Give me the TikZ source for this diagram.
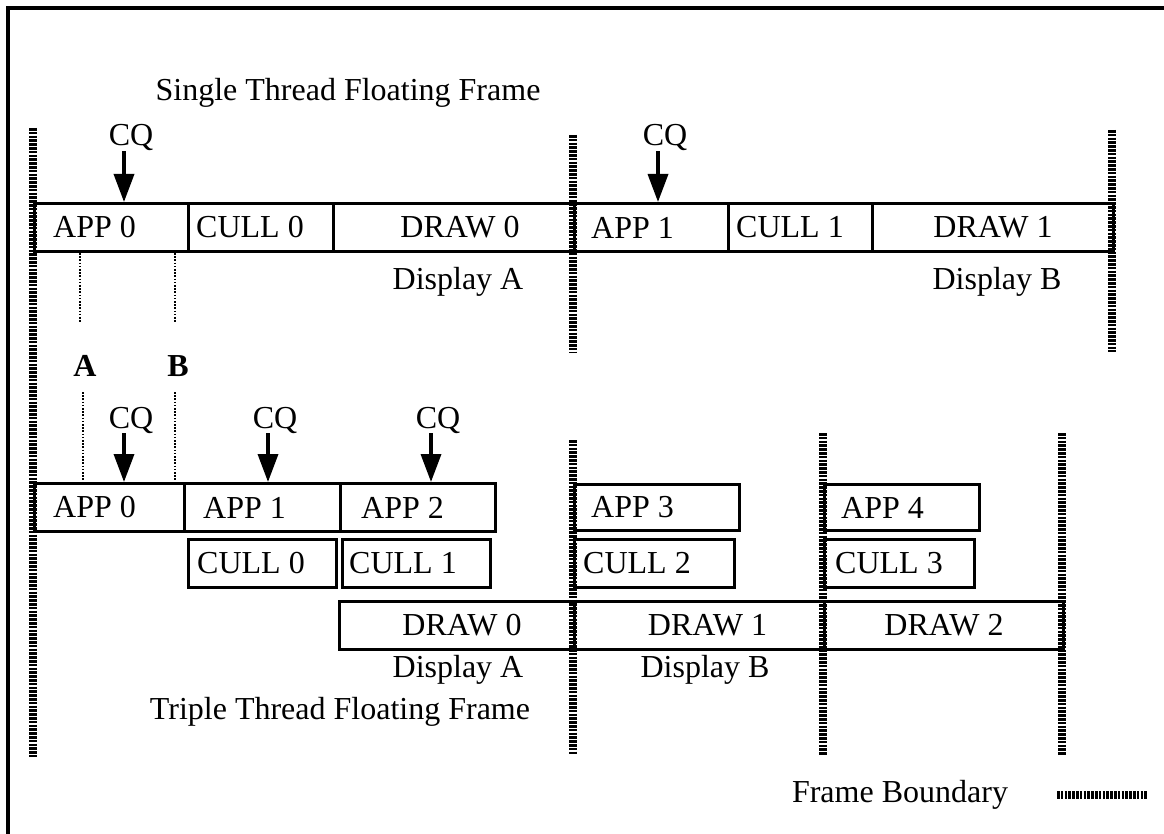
\documentclass[tikz,border=0pt]{standalone}
\usepackage{fontspec}
\setmainfont{Liberation Serif}
\usetikzlibrary{arrows.meta,calc}
\begin{document}
\begin{tikzpicture}[x=1pt,y=-1pt,
  lbl/.style={font=\fontsize{32}{36}\selectfont, inner sep=0pt},
  box/.style={draw, line width=3pt, inner sep=0pt, anchor=north west},
  fb/.style={line width=8pt, dash pattern=on 2.6pt off 1.2pt},
  cqa/.style={line width=3.5pt, -{Triangle[length=28pt,width=20pt]}},
  dots/.style={line width=2pt, dash pattern=on 1.6pt off 1.6pt}]
\useasboundingbox (0,0) rectangle (1164,834);
% outer border
\draw[line width=4pt] (8,834) -- (8,8) -- (1164,8);
% titles
\node[lbl] (title1) at (348,93) {Single Thread Floating Frame};
\node[lbl] (title2) at (340,712) {Triple Thread Floating Frame};
% ---------- single thread row ----------
\node[box,minimum width=154,minimum height=48] (sa0) at (33,202) {};
\node[box,minimum width=145,minimum height=48] (sc0) at (187,202) {};
\node[box,minimum width=241,minimum height=48] (sd0) at (332,202) {};
\node[box,minimum width=154,minimum height=48] (sa1) at (573,202) {};
\node[box,minimum width=144,minimum height=48] (sc1) at (727,202) {};
\node[box,minimum width=241,minimum height=48] (sd1) at (871,202) {};
\node[lbl,anchor=west] (sa0t) at ($(sa0.west)+(20,0)$) {APP 0};
\node[lbl,anchor=west] (sc0t) at ($(sc0.west)+(9,0)$) {CULL 0};
\node[lbl] (sd0t) at ($(sd0.center)+(6,0)$) {DRAW 0};
\node[lbl,anchor=west] (sa1t) at ($(sa1.west)+(18,0)$) {APP 1};
\node[lbl,anchor=west] (sc1t) at ($(sc1.west)+(9,0)$) {CULL 1};
\node[lbl] (sd1t) at ($(sd1.center)+(0,0)$) {DRAW 1};
\node[lbl] (dispA1) at (458,282) {Display A};
\node[lbl] (dispB1) at (997,282) {Display B};
% CQ arrows single
\node[lbl] (cq1) at (131,138) {CQ};
\node[lbl] (cq2) at (665,138) {CQ};
\draw[cqa] ([xshift=-7pt]cq1.south) -- ([xshift=-7pt]cq1.south |- sa0.north);
\draw[cqa] ([xshift=-7pt]cq2.south) -- ([xshift=-7pt]cq2.south |- sa1.north);
% dotted markers
\coordinate (da1) at (80,253); \coordinate (da2) at (80,323);
\coordinate (db1) at (175,253); \coordinate (db2) at (175,323);
\draw[dots] (da1) -- (da2);
\draw[dots] (db1) -- (db2);
\node[lbl,font=\fontsize{32}{36}\selectfont\bfseries] (labA) at (85,366) {A};
\node[lbl,font=\fontsize{32}{36}\selectfont\bfseries] (labB) at (178,366) {B};
\coordinate (dc1) at (83,392); \coordinate (dc2) at (83,481);
\coordinate (dd1) at (175,392); \coordinate (dd2) at (175,481);
\draw[dots] (dc1) -- (dc2);
\draw[dots] (dd1) -- (dd2);
% ---------- triple thread ----------
\node[box,minimum width=150,minimum height=48] (ta0) at (33,482) {};
\node[box,minimum width=156,minimum height=48] (ta1) at (183,482) {};
\node[box,minimum width=155,minimum height=48] (ta2) at (339,482) {};
\node[box,minimum width=165,minimum height=46] (ta3) at (573,483) {};
\node[box,minimum width=155,minimum height=46] (ta4) at (823,483) {};
\node[box,minimum width=148,minimum height=48] (tc0) at (187,538) {};
\node[box,minimum width=148,minimum height=48] (tc1) at (341,538) {};
\node[box,minimum width=160,minimum height=48] (tc2) at (573,538) {};
\node[box,minimum width=150,minimum height=48] (tc3) at (823,538) {};
\node[box,minimum width=235,minimum height=48] (td0) at (338,600) {};
\node[box,minimum width=250,minimum height=48] (td1) at (573,600) {};
\node[box,minimum width=239,minimum height=48] (td2) at (823,600) {};
\node[lbl,anchor=west] (ta0t) at ($(ta0.west)+(20,0)$) {APP 0};
\node[lbl,anchor=west] (ta1t) at ($(ta1.west)+(20,0)$) {APP 1};
\node[lbl,anchor=west] (ta2t) at ($(ta2.west)+(22,0)$) {APP 2};
\node[lbl,anchor=west] (ta3t) at ($(ta3.west)+(18,0)$) {APP 3};
\node[lbl,anchor=west] (ta4t) at ($(ta4.west)+(18,0)$) {APP 4};
\node[lbl,anchor=west] (tc0t) at ($(tc0.west)+(10,0)$) {CULL 0};
\node[lbl,anchor=west] (tc1t) at ($(tc1.west)+(8,0)$) {CULL 1};
\node[lbl,anchor=west] (tc2t) at ($(tc2.west)+(10,0)$) {CULL 2};
\node[lbl,anchor=west] (tc3t) at ($(tc3.west)+(12,0)$) {CULL 3};
\node[lbl] (td0t) at ($(td0.center)+(5,0)$) {DRAW 0};
\node[lbl] (td1t) at ($(td1.center)+(8,0)$) {DRAW 1};
\node[lbl] (td2t) at ($(td2.center)+(0,0)$) {DRAW 2};
\node[lbl] (dispA2) at (458,670) {Display A};
\node[lbl] (dispB2) at (705,670) {Display B};
\node[lbl] (cq3) at (131,420) {CQ};
\node[lbl] (cq4) at (275,420) {CQ};
\node[lbl] (cq5) at (438,420) {CQ};
\draw[cqa] ([xshift=-7pt]cq3.south) -- ([xshift=-7pt]cq3.south |- ta0.north);
\draw[cqa] ([xshift=-7pt]cq4.south) -- ([xshift=-7pt]cq4.south |- ta1.north);
\draw[cqa] ([xshift=-7pt]cq5.south) -- ([xshift=-7pt]cq5.south |- ta2.north);
% ---------- frame boundaries ----------
\coordinate (f1t) at (33,128);   \coordinate (f1b) at (33,757);
\coordinate (f2t) at (573,135);  \coordinate (f2b) at (573,352);
\coordinate (f3t) at (1112,130); \coordinate (f3b) at (1112,352);
\coordinate (f4t) at (573,440);  \coordinate (f4b) at (573,755);
\coordinate (f5t) at (823,433);  \coordinate (f5b) at (823,755);
\coordinate (f6t) at (1062,433); \coordinate (f6b) at (1062,755);
\draw[fb] (f1t) -- (f1b);
\draw[fb] (f2t) -- (f2b);
\draw[fb] (f3t) -- (f3b);
\draw[fb] (f4t) -- (f4b);
\draw[fb] (f5t) -- (f5b);
\draw[fb] (f6t) -- (f6b);
% legend
\node[lbl] (legend) at (900,795) {Frame Boundary};
\coordinate (lg1) at (1057,795); \coordinate (lg2) at (1148,795);
\draw[fb] (lg1) -- (lg2);
\end{tikzpicture}
\end{document}
